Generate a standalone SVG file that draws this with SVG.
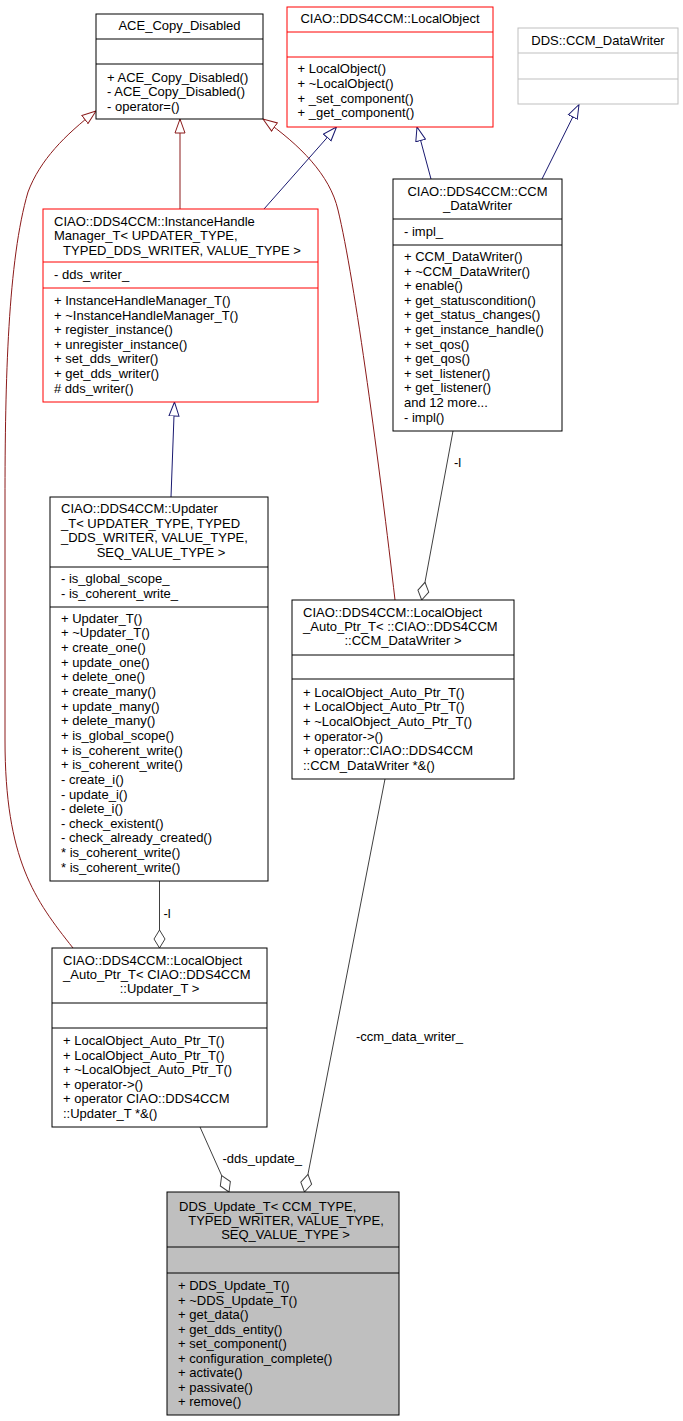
<svg xmlns="http://www.w3.org/2000/svg" width="683" height="1421" viewBox="0 0 683 1421">
<style>
text{font-family:"Liberation Sans",Arial,Helvetica,sans-serif;font-size:13px;fill:#000}
.m{text-anchor:middle}
.box{fill:#fff;stroke:#000;stroke-width:1}
.red{fill:#fff;stroke:#ff0000;stroke-width:1}
.gray{fill:#fff;stroke:#bfbfbf;stroke-width:1}
.cur{fill:#bfbfbf;stroke:#000;stroke-width:1}
.dv{stroke:#000;stroke-width:1}
.dvr{stroke:#ff0000;stroke-width:1}
.dvg{stroke:#bfbfbf;stroke-width:1}
.fb{fill:none;stroke:#8b1a1a;stroke-width:1;marker-end:url(#triR)}
.mb{fill:none;stroke:#191970;stroke-width:1;marker-end:url(#triB)}
.gr{fill:none;stroke:#404040;stroke-width:1;marker-end:url(#dia)}
</style>
<defs>
<marker id="triR" markerUnits="userSpaceOnUse" markerWidth="16" markerHeight="12" refX="14.5" refY="6" orient="auto"><path d="M14.5,6 L0.5,1 L0.5,11 Z" fill="#fff" stroke="#8b1a1a" stroke-width="1"/></marker>
<marker id="triB" markerUnits="userSpaceOnUse" markerWidth="16" markerHeight="12" refX="14.5" refY="6" orient="auto"><path d="M14.5,6 L0.5,1 L0.5,11 Z" fill="#fff" stroke="#191970" stroke-width="1"/></marker>
<marker id="dia" markerUnits="userSpaceOnUse" markerWidth="20" markerHeight="13" refX="18.5" refY="6.5" orient="auto"><path d="M18.5,6.5 L9.5,1 L0.5,6.5 L9.5,12 Z" fill="#fff" stroke="#404040" stroke-width="1"/></marker>
</defs>
<rect width="683" height="1421" fill="#fff"/>

<g id="edges">
<path class="fb" d="M180,209 L180,119"/>
<path class="fb" d="M73,948 C35,900 5,860 5,740 L5,500 C5,380 8,260 28,192 C40,160 65,135 96,111"/>
<path class="fb" d="M395,600 C380,470 355,280 338,210 C330,175 300,145 263,119"/>
<path class="mb" d="M264,209 L336.5,127"/>
<path class="mb" d="M431,179 L417,127"/>
<path class="mb" d="M542,179 L579,104.5"/>
<path class="mb" d="M171,497 L174.5,402"/>
<path class="gr" d="M453,431 L421.7,600"/>
<text x="454" y="467">-l</text>
<path class="gr" d="M159.5,881 L159.5,948"/>
<text x="163.5" y="917.5">-l</text>
<path class="gr" d="M200,1127 L229,1192"/>
<text x="222.5" y="1163">-dds_update_</text>
<path class="gr" d="M385,779 L304.5,1192"/>
<text x="356" y="1041">-ccm_data_writer_</text>
</g>

<g id="ACE_Copy_Disabled">
<rect class="box" x="96" y="14" width="167" height="105"/>
<line class="dv" x1="96" y1="39" x2="263" y2="39"/>
<line class="dv" x1="96" y1="64" x2="263" y2="64"/>
<text class="m" x="179.5" y="30">ACE_Copy_Disabled</text>
<text x="107" y="81.5">+ ACE_Copy_Disabled()</text>
<text x="107" y="96">- ACE_Copy_Disabled()</text>
<text x="107" y="110.5">- operator=()</text>
</g>

<g id="LocalObject">
<rect class="red" x="287" y="7" width="206" height="120"/>
<line class="dvr" x1="287" y1="32" x2="493" y2="32"/>
<line class="dvr" x1="287" y1="57" x2="493" y2="57"/>
<text class="m" x="390" y="22.7">CIAO::DDS4CCM::LocalObject</text>
<text x="297.5" y="73.3">+ LocalObject()</text>
<text x="297.5" y="88">+ ~LocalObject()</text>
<text x="297.5" y="102.5">+ _set_component()</text>
<text x="297.5" y="117">+ _get_component()</text>
</g>

<g id="DDS_CCM_DataWriter">
<rect class="gray" x="518" y="28" width="160" height="76"/>
<line class="dvg" x1="518" y1="53" x2="678" y2="53"/>
<line class="dvg" x1="518" y1="79" x2="678" y2="79"/>
<text class="m" x="598" y="45">DDS::CCM_DataWriter</text>
</g>

<g id="CCM_DataWriter">
<rect class="box" x="393" y="179" width="169" height="252"/>
<line class="dv" x1="393" y1="219" x2="562" y2="219"/>
<line class="dv" x1="393" y1="245" x2="562" y2="245"/>
<text class="m" x="477.5" y="196">CIAO::DDS4CCM::CCM</text>
<text class="m" x="477.5" y="210">_DataWriter</text>
<text x="404" y="235.7">- impl_</text>
<text x="404" y="261">+ CCM_DataWriter()</text>
<text x="404" y="275.6">+ ~CCM_DataWriter()</text>
<text x="404" y="290.2">+ enable()</text>
<text x="404" y="304.8">+ get_statuscondition()</text>
<text x="404" y="319.4">+ get_status_changes()</text>
<text x="404" y="334">+ get_instance_handle()</text>
<text x="404" y="348.6">+ set_qos()</text>
<text x="404" y="363.2">+ get_qos()</text>
<text x="404" y="377.8">+ set_listener()</text>
<text x="404" y="392.4">+ get_listener()</text>
<text x="404" y="407">and 12 more...</text>
<text x="404" y="421.6">- impl()</text>
</g>

<g id="InstanceHandleManager_T">
<rect class="red" x="43" y="209" width="275" height="193"/>
<line class="dvr" x1="43" y1="262" x2="318" y2="262"/>
<line class="dvr" x1="43" y1="288" x2="318" y2="288"/>
<text x="54" y="225.5">CIAO::DDS4CCM::InstanceHandle</text>
<text x="54" y="240">Manager_T&lt; UPDATER_TYPE,</text>
<text class="m" x="182" y="254.5">TYPED_DDS_WRITER, VALUE_TYPE &gt;</text>
<text x="54" y="279">- dds_writer_</text>
<text x="54" y="305">+ InstanceHandleManager_T()</text>
<text x="54" y="319.6">+ ~InstanceHandleManager_T()</text>
<text x="54" y="334.2">+ register_instance()</text>
<text x="54" y="348.8">+ unregister_instance()</text>
<text x="54" y="363.4">+ set_dds_writer()</text>
<text x="54" y="378">+ get_dds_writer()</text>
<text x="54" y="392.6"># dds_writer()</text>
</g>

<g id="Updater_T">
<rect class="box" x="50" y="497" width="218" height="384"/>
<line class="dv" x1="50" y1="567" x2="268" y2="567"/>
<line class="dv" x1="50" y1="607" x2="268" y2="607"/>
<text x="61" y="513.3">CIAO::DDS4CCM::Updater</text>
<text x="61" y="527.8">_T&lt; UPDATER_TYPE, TYPED</text>
<text x="61" y="542.2">_DDS_WRITER, VALUE_TYPE,</text>
<text class="m" x="161" y="556.7">SEQ_VALUE_TYPE &gt;</text>
<text x="61" y="583.3">- is_global_scope_</text>
<text x="61" y="597.9">- is_coherent_write_</text>
<text x="61" y="622.7">+ Updater_T()</text>
<text x="61" y="637.3">+ ~Updater_T()</text>
<text x="61" y="652">+ create_one()</text>
<text x="61" y="666.6">+ update_one()</text>
<text x="61" y="681.3">+ delete_one()</text>
<text x="61" y="695.9">+ create_many()</text>
<text x="61" y="710.6">+ update_many()</text>
<text x="61" y="725.2">+ delete_many()</text>
<text x="61" y="739.9">+ is_global_scope()</text>
<text x="61" y="754.5">+ is_coherent_write()</text>
<text x="61" y="769.2">+ is_coherent_write()</text>
<text x="61" y="783.8">- create_i()</text>
<text x="61" y="798.5">- update_i()</text>
<text x="61" y="813.1">- delete_i()</text>
<text x="61" y="827.8">- check_existent()</text>
<text x="61" y="842.4">- check_already_created()</text>
<text x="61" y="857.1">* is_coherent_write()</text>
<text x="61" y="871.7">* is_coherent_write()</text>
</g>

<g id="LocalObject_Auto_Ptr_CCM_DataWriter">
<rect class="box" x="292" y="600" width="222" height="179"/>
<line class="dv" x1="292" y1="655" x2="514" y2="655"/>
<line class="dv" x1="292" y1="679" x2="514" y2="679"/>
<text x="303" y="616.7">CIAO::DDS4CCM::LocalObject</text>
<text x="303" y="630.8">_Auto_Ptr_T&lt; ::CIAO::DDS4CCM</text>
<text class="m" x="403" y="645">::CCM_DataWriter &gt;</text>
<text x="303" y="696.7">+ LocalObject_Auto_Ptr_T()</text>
<text x="303" y="711.3">+ LocalObject_Auto_Ptr_T()</text>
<text x="303" y="725.9">+ ~LocalObject_Auto_Ptr_T()</text>
<text x="303" y="740.5">+ operator-&gt;()</text>
<text x="303" y="755.1">+ operator::CIAO::DDS4CCM</text>
<text x="303" y="769.7">::CCM_DataWriter *&amp;()</text>
</g>

<g id="LocalObject_Auto_Ptr_Updater_T">
<rect class="box" x="52" y="948" width="215" height="179"/>
<line class="dv" x1="52" y1="1003" x2="267" y2="1003"/>
<line class="dv" x1="52" y1="1028" x2="267" y2="1028"/>
<text x="63" y="965">CIAO::DDS4CCM::LocalObject</text>
<text x="63" y="979.2">_Auto_Ptr_T&lt; CIAO::DDS4CCM</text>
<text class="m" x="159.5" y="993.3">::Updater_T &gt;</text>
<text x="63" y="1045">+ LocalObject_Auto_Ptr_T()</text>
<text x="63" y="1059.6">+ LocalObject_Auto_Ptr_T()</text>
<text x="63" y="1074.2">+ ~LocalObject_Auto_Ptr_T()</text>
<text x="63" y="1088.8">+ operator-&gt;()</text>
<text x="63" y="1103.4">+ operator CIAO::DDS4CCM</text>
<text x="63" y="1118">::Updater_T *&amp;()</text>
</g>

<g id="DDS_Update_T">
<rect class="cur" x="167" y="1192" width="232" height="223"/>
<line class="dv" x1="167" y1="1247" x2="399" y2="1247"/>
<line class="dv" x1="167" y1="1273" x2="399" y2="1273"/>
<text x="179" y="1211">DDS_Update_T&lt; CCM_TYPE,</text>
<text class="m" x="286" y="1225">TYPED_WRITER, VALUE_TYPE,</text>
<text class="m" x="285.5" y="1238.5">SEQ_VALUE_TYPE &gt;</text>
<text x="178" y="1290">+ DDS_Update_T()</text>
<text x="178" y="1304.5">+ ~DDS_Update_T()</text>
<text x="178" y="1319">+ get_data()</text>
<text x="178" y="1333.5">+ get_dds_entity()</text>
<text x="178" y="1348">+ set_component()</text>
<text x="178" y="1362.5">+ configuration_complete()</text>
<text x="178" y="1377">+ activate()</text>
<text x="178" y="1391.5">+ passivate()</text>
<text x="178" y="1406">+ remove()</text>
</g>
</svg>
